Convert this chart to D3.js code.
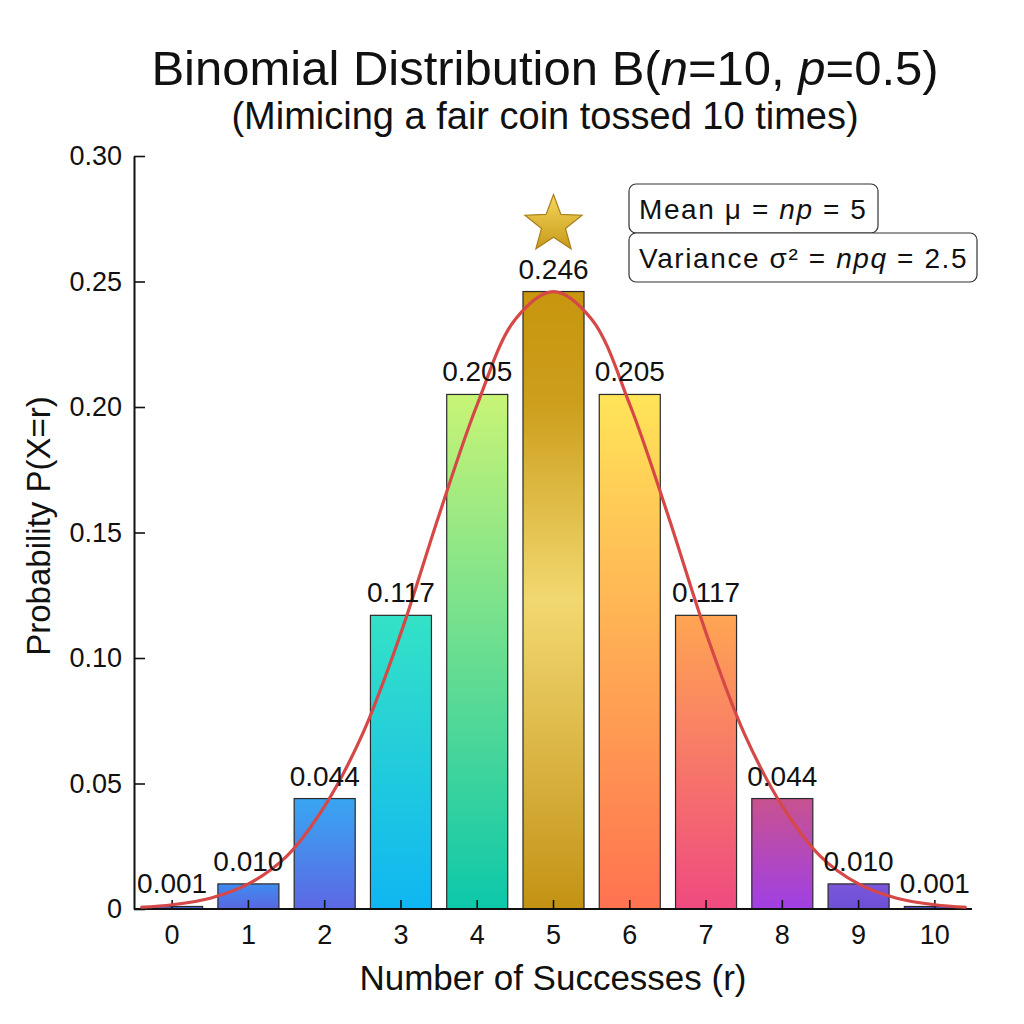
<!DOCTYPE html>
<html>
<head>
<meta charset="utf-8">
<script src="https://cdn.jsdelivr.net/npm/d3@7"></script>
<style>
  body { margin: 0; background: #fff; }
  svg { font-family: "Liberation Sans", Arial, sans-serif; }
</style>
</head>
<body>
<div id="chart"></div>
<script>
// Chart data
let successes = [0, 1, 2, 3, 4, 5, 6, 7, 8, 9, 10];
let probs = [0.001, 0.010, 0.044, 0.117, 0.205, 0.246, 0.205, 0.117, 0.044, 0.010, 0.001];
let yTicks = [0, 0.05, 0.10, 0.15, 0.20, 0.25, 0.30];

// Normal approximation curve
let curveX = [-0.4, 0, 0.5, 1, 1.5, 2, 2.5, 3, 3.5, 4, 4.5, 5, 5.5, 6, 6.5, 7, 7.5, 8, 8.5, 9, 9.5, 10, 10.4];
let curveY = [0.0007, 0.0017, 0.0043, 0.010, 0.021, 0.041, 0.070, 0.110, 0.157, 0.201, 0.235, 0.246,
  0.235, 0.201, 0.157, 0.110, 0.070, 0.041, 0.021, 0.010, 0.0043, 0.0017, 0.0007];

// Gradient colours per bar (top, bottom)
let topColors = ["#5070e2", "#3f8cf0", "#38a6f2", "#33e2c6", "#c8f476", "#c8960e", "#ffe458", "#ffa552", "#c8528f", "#7a56da", "#5c52d2"];
let bottomColors = ["#4a62da", "#5a66e0", "#5c68e4", "#10b6f2", "#0cc8aa", "#c39213", "#ff7250", "#ef4a80", "#a040e4", "#6c50d6", "#5650d0"];

let svgWidth = 1024;
let svgHeight = 1024;

let margin = { top: 156, right: 51, bottom: 115, left: 134 };
let width = svgWidth - margin.left - margin.right;
let height = svgHeight - margin.top - margin.bottom;

let svg = d3.select("#chart")
  .append("svg")
  .attr("width", svgWidth)
  .attr("height", svgHeight);

let defs = svg.append("defs");

successes.forEach(function(s, i) {
  let grad = defs.append("linearGradient")
    .attr("id", "bar" + i)
    .attr("x1", 0).attr("y1", 0)
    .attr("x2", 0).attr("y2", 1);
  if (i === 5) {
    // gold bar, lighter around the middle
    grad.append("stop").attr("offset", "0%").attr("stop-color", "#c8960e");
    grad.append("stop").attr("offset", "18%").attr("stop-color", "#cc9e1c");
    grad.append("stop").attr("offset", "50%").attr("stop-color", "#f2d870");
    grad.append("stop").attr("offset", "80%").attr("stop-color", "#d6ae3c");
    grad.append("stop").attr("offset", "100%").attr("stop-color", "#c39213");
  } else {
    grad.append("stop").attr("offset", "0%").attr("stop-color", topColors[i]);
    grad.append("stop").attr("offset", "100%").attr("stop-color", bottomColors[i]);
  }
});

let starGrad = defs.append("linearGradient")
  .attr("id", "starGrad")
  .attr("x1", 0).attr("y1", 0)
  .attr("x2", 0).attr("y2", 1);
starGrad.append("stop").attr("offset", "0%").attr("stop-color", "#f6d65a");
starGrad.append("stop").attr("offset", "100%").attr("stop-color", "#c89a1c");

let chartGroup = svg.append("g")
  .attr("transform", `translate(${margin.left}, ${margin.top})`);

// scales
let xScale = d3.scaleBand()
  .domain(successes)
  .range([0, width])
  .paddingInner(0.2)
  .paddingOuter(0.1);

let xLinear = d3.scaleLinear()
  .domain([0, 10])
  .range([xScale(0) + xScale.bandwidth() / 2, xScale(10) + xScale.bandwidth() / 2]);

let yScale = d3.scaleLinear()
  .domain([0, 0.30])
  .range([height, 0]);

// bars
chartGroup.selectAll("rect.bar")
  .data(probs)
  .enter()
  .append("rect")
  .attr("class", "bar")
  .attr("x", (d, i) => xScale(successes[i]))
  .attr("y", d => yScale(d))
  .attr("width", xScale.bandwidth())
  .attr("height", d => height - yScale(d))
  .attr("fill", (d, i) => `url(#bar${i})`)
  .attr("stroke", "#2a2a2a")
  .attr("stroke-width", 1.2);

// axes (ticks point inward)
let bottomAxis = d3.axisBottom(xScale).tickSizeInner(-9).tickSizeOuter(0).tickPadding(16);
let leftAxis = d3.axisLeft(yScale)
  .tickValues(yTicks)
  .tickSizeInner(-11)
  .tickSizeOuter(0)
  .tickPadding(12)
  .tickFormat(d => d === 0 ? "0" : d3.format(".2f")(d));

let xAxis = chartGroup.append("g")
  .attr("transform", `translate(0, ${height})`)
  .call(bottomAxis);

let yAxis = chartGroup.append("g")
  .call(leftAxis);

[xAxis, yAxis].forEach(function(ax) {
  ax.select(".domain").attr("stroke", "#111").attr("stroke-width", 2);
  ax.selectAll(".tick line").attr("stroke", "#111").attr("stroke-width", 1.6);
  ax.selectAll(".tick text")
    .attr("fill", "#111")
    .attr("font-size", "27px")
    .attr("font-family", "Liberation Sans, Arial, sans-serif");
});
xAxis.select(".domain").attr("d", `M0,0H${width - 1}`);

// normal curve
let line = d3.line()
  .x(d => xLinear(d[0]))
  .y(d => yScale(d[1]))
  .curve(d3.curveCatmullRom);

chartGroup.append("path")
  .datum(curveX.map((x, i) => [x, curveY[i]]))
  .attr("d", line)
  .attr("fill", "none")
  .attr("stroke", "#d64848")
  .attr("stroke-width", 3.2)
  .attr("stroke-linecap", "round");

// value labels
chartGroup.selectAll("text.val")
  .data(probs)
  .enter()
  .append("text")
  .attr("class", "val")
  .attr("x", (d, i) => xScale(successes[i]) + xScale.bandwidth() / 2)
  .attr("y", d => yScale(d) - 13)
  .attr("text-anchor", "middle")
  .attr("font-size", "28px")
  .attr("fill", "#111")
  .text(d => d3.format(".3f")(d));

// star above the peak
let starR = 30;
let starPts = d3.range(10).map(function(k) {
  let r = k % 2 === 0 ? starR : starR * 0.42;
  let a = -Math.PI / 2 + k * Math.PI / 5;
  return [r * Math.cos(a), r * Math.sin(a)];
});
chartGroup.append("path")
  .attr("d", "M" + starPts.join("L") + "Z")
  .attr("transform", `translate(${xLinear(5)}, ${yScale(0.246) - 67})`)
  .attr("fill", "url(#starGrad)")
  .attr("stroke", "#a8801a")
  .attr("stroke-width", 1.2);

// annotation boxes
let boxes = [
  { y: 28, w: 249, parts: [["Mean μ = ", false], ["np", true], [" = 5", false]] },
  { y: 77, w: 348, parts: [["Variance σ² = ", false], ["npq", true], [" = 2.5", false]] }
];
boxes.forEach(function(b) {
  chartGroup.append("rect")
    .attr("x", 495)
    .attr("y", b.y)
    .attr("width", b.w)
    .attr("height", 49)
    .attr("rx", 7)
    .attr("fill", "#fff")
    .attr("stroke", "#333")
    .attr("stroke-width", 1.2);
  let t = chartGroup.append("text")
    .attr("x", 505)
    .attr("y", b.y + 35)
    .attr("font-size", "28px")
    .attr("letter-spacing", "1.6px")
    .attr("fill", "#111");
  b.parts.forEach(function(p) {
    t.append("tspan")
      .attr("font-style", p[1] ? "italic" : "normal")
      .text(p[0]);
  });
});

// titles
let title = svg.append("text")
  .attr("x", 545)
  .attr("y", 85)
  .attr("text-anchor", "middle")
  .attr("font-size", "49px")
  .attr("fill", "#111");
[["Binomial Distribution B(", false], ["n", true], ["=10, ", false], ["p", true], ["=0.5)", false]].forEach(function(p) {
  title.append("tspan").attr("font-style", p[1] ? "italic" : "normal").text(p[0]);
});

svg.append("text")
  .attr("x", 545)
  .attr("y", 129)
  .attr("text-anchor", "middle")
  .attr("font-size", "38px")
  .attr("fill", "#111")
  .text("(Mimicing a fair coin tossed 10 times)");

// axis labels
svg.append("text")
  .attr("x", 553)
  .attr("y", 990)
  .attr("text-anchor", "middle")
  .attr("font-size", "35px")
  .attr("fill", "#111")
  .text("Number of Successes (r)");

svg.append("text")
  .attr("transform", "rotate(-90)")
  .attr("x", -526)
  .attr("y", 50)
  .attr("text-anchor", "middle")
  .attr("font-size", "33px")
  .attr("fill", "#111")
  .text("Probability P(X=r)");
</script>
</body>
</html>
